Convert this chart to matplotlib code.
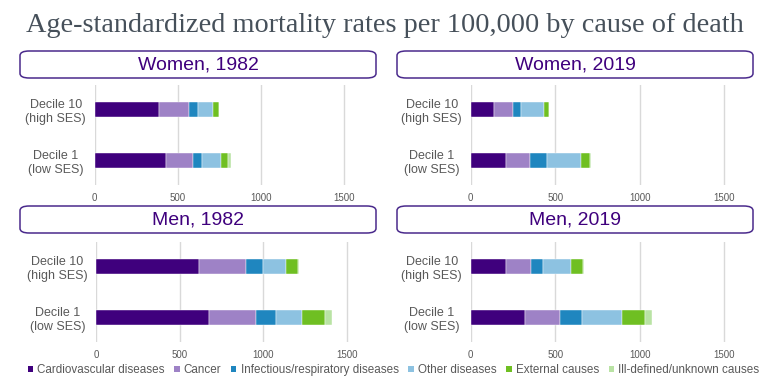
import matplotlib.pyplot as plt
from matplotlib.patches import FancyBboxPatch, Patch
import numpy as np

# causes of death (stack order, left to right)
causes = ['Cardiovascular diseases', 'Cancer', 'Infectious/respiratory diseases',
          'Other diseases', 'External causes', 'Ill-defined/unknown causes']
colors = ['#3f007d', '#9e82c6', '#1f86bf', '#8dc2e1', '#6fbf22', '#b9e3a4']

deciles = ['Decile 1\n(low SES)', 'Decile 10\n(high SES)']

# values per cause: [decile 1, decile 10]
women_1982 = [[428, 384], [164, 184], [50, 50], [116, 94], [42, 32], [18, 4]]
women_2019 = [[207, 136], [145, 113], [99, 49], [203, 137], [53, 29], [6, 2]]
men_1982 = [[676, 612], [277, 283], [120, 104], [157, 134], [138, 72], [40, 9]]
men_2019 = [[321, 207], [207, 150], [130, 69], [239, 166], [136, 73], [38, 8]]

panels = [('Women, 1982', women_1982), ('Women, 2019', women_2019),
          ('Men, 1982', men_1982), ('Men, 2019', men_2019)]

W, H = 770, 381
fig = plt.figure(figsize=(7.7, 3.81), dpi=100)
plt.rcParams['font.family'] = ['Liberation Sans', 'DejaVu Sans']

fig.text(0.5, 1 - 26 / H, 'Age-standardized mortality rates per 100,000 by cause of death',
         ha='center', va='center', fontsize=20.3, color='#46505a',
         family=['Liberation Serif', 'DejaVu Serif'])

# pixel layout: (axes left, px per 1500 units, axes top, box left, box right, box top)
layout = [(94.7, 249.6, 85, 20, 376, 51),
          (470.7, 253.3, 85, 397, 753, 51),
          (96.3, 250.7, 242, 20, 376, 206),
          (470.7, 253.3, 242, 397, 753, 206)]

xmax = 1550
for (title, data), (x0, w1500, top, bl, br, bt) in zip(panels, layout):
    width = w1500 * xmax / 1500
    ax = fig.add_axes([x0 / W, 1 - (top + 100) / H, width / W, 100 / H])
    y = np.arange(len(deciles))
    left = np.zeros(len(deciles))
    for vals, c in zip(data, colors):
        ax.barh(y, vals, left=left, height=0.31, color=c, edgecolor='white', linewidth=0.3, zorder=3)
        left += np.array(vals)
    ax.set_xlim(0, xmax)
    ax.set_ylim(-0.48, 1.48)
    ax.set_xticks([0, 500, 1000, 1500])
    ax.set_yticks(y)
    ax.set_yticklabels(deciles, fontsize=9, color='#595959', ha='center')
    ax.tick_params(axis='y', length=0, pad=28)
    ax.tick_params(axis='x', length=0, labelsize=7, labelcolor='#595959', pad=6)
    ax.grid(axis='x', color='#d9d9d9', linewidth=1, zorder=0)
    for s in ax.spines.values():
        s.set_visible(False)

    # header box
    box = FancyBboxPatch((bl / W, 1 - (bt + 27) / H), (br - bl) / W, 27 / H,
                         boxstyle='round,pad=0,rounding_size=0.012',
                         transform=fig.transFigure, facecolor='white',
                         edgecolor='#4a2a8c', linewidth=1.1)
    fig.patches.append(box)
    fig.text((bl + br) / 2 / W, 1 - (bt + 14) / H, title, ha='center', va='center',
             fontsize=14, color='#3f007d')

handles = [Patch(facecolor=c, edgecolor='none') for c in colors]
fig.legend(handles, causes, loc='center', bbox_to_anchor=(0.511, 1 - 370 / H), ncol=6,
           frameon=False, fontsize=8.4, labelcolor='#595959', handlelength=0.45,
           handleheight=0.45, handletextpad=0.35, columnspacing=0.85, borderaxespad=0)

fig.savefig('out.png', dpi=100)
